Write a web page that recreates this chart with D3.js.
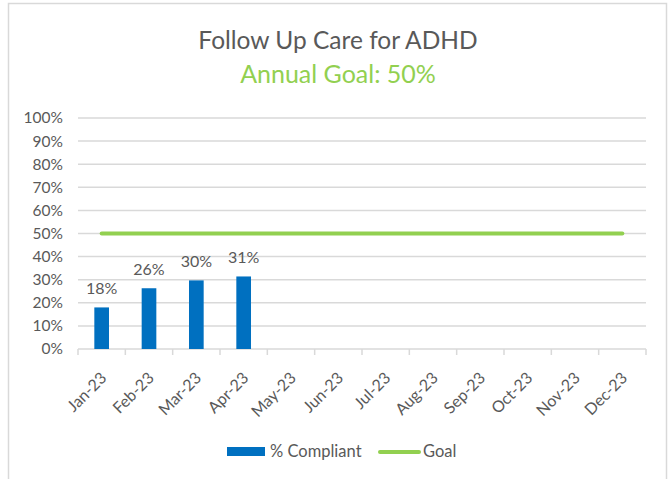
<!DOCTYPE html>
<html lang="en">
<head>
  <meta charset="UTF-8">
  <title>Follow Up Care for ADHD</title>
  <style>
    body { margin: 0; background: #fff; }
    text { font-family: Lato, "Open Sans", sans-serif; }
  </style>
</head>
<body>
  <script src="https://d3js.org/d3.v7.min.js"></script>
  <script>
    const months = ['Jan-23', 'Feb-23', 'Mar-23', 'Apr-23', 'May-23', 'Jun-23',
                    'Jul-23', 'Aug-23', 'Sep-23', 'Oct-23', 'Nov-23', 'Dec-23'];
    const compliant = [0.18, 0.263, 0.297, 0.314];
    const compliantLabels = ['18%', '26%', '30%', '31%'];
    const goal = [0.5, 0.5, 0.5, 0.5, 0.5, 0.5, 0.5, 0.5, 0.5, 0.5, 0.5, 0.5];
    const yTicks = [0, 0.1, 0.2, 0.3, 0.4, 0.5, 0.6, 0.7, 0.8, 0.9, 1];

    const width = 670;
    const height = 479;
    const textColor = '#595959';
    const gridColor = '#d9d9d9';
    const blue = '#0070c0';
    const green = '#92d050';

    const svg = d3.select('body')
                  .append('svg')
                  .attr('width', width)
                  .attr('height', height);

    // chart frame
    svg.append('rect')
       .attr('x', 8.5).attr('y', 3.5)
       .attr('width', 658).attr('height', 490)
       .attr('fill', '#fff')
       .attr('stroke', gridColor)
       .attr('stroke-width', 1.5);

    // titles
    svg.append('text')
       .attr('x', 338).attr('y', 49)
       .attr('text-anchor', 'middle')
       .attr('font-size', 24.5)
       .attr('fill', textColor)
       .text('Follow Up Care for ADHD');
    svg.append('text')
       .attr('x', 338).attr('y', 83)
       .attr('text-anchor', 'middle')
       .attr('font-size', 25)
       .attr('fill', green)
       .text('Annual Goal: 50%');

    const x = d3.scaleBand()
                .domain(months)
                .range([78, 646])
                .paddingInner(0.69)
                .paddingOuter(0.345);
    const xc = d3.scalePoint()
                 .domain(months)
                 .range([78, 646])
                 .padding(0.5);
    const y = d3.scaleLinear()
                .domain([0, 1])
                .range([349, 118]);

    // gridlines
    svg.append('g')
       .selectAll('line')
       .data(yTicks.slice(1))
       .enter()
       .append('line')
       .attr('x1', 78).attr('x2', 646)
       .attr('y1', d => y(d)).attr('y2', d => y(d))
       .attr('stroke', gridColor)
       .attr('stroke-width', 1.5);

    // y axis labels
    const yAxis = svg.append('g')
       .attr('transform', 'translate(63,0)')
       .call(d3.axisLeft(y).tickValues(yTicks).tickFormat(d3.format('.0%')).tickSize(0).tickPadding(0));
    yAxis.select('.domain').remove();
    yAxis.selectAll('text')
         .attr('font-size', 15.5)
         .attr('fill', textColor)
         .style('font-family', 'Lato, sans-serif');

    // x axis
    const xAxis = svg.append('g')
       .attr('transform', 'translate(0,349)')
       .call(d3.axisBottom(x).tickSize(0).tickPadding(0));
    xAxis.select('.domain')
         .attr('stroke', gridColor)
         .attr('stroke-width', 1.5)
         .attr('d', 'M78,0H646');
    xAxis.selectAll('.tick line').remove();
    xAxis.selectAll('text')
         .attr('font-size', 16)
         .attr('fill', textColor)
         .style('font-family', 'Lato, sans-serif')
         .attr('text-anchor', 'end')
         .attr('dy', 0)
         .attr('transform', 'translate(6,30) rotate(-45)');

    // category separators
    const bounds = months.map(m => xc(m) - xc.step() / 2).concat([646]);
    svg.append('g')
       .selectAll('line')
       .data(bounds)
       .enter()
       .append('line')
       .attr('x1', d => d).attr('x2', d => d)
       .attr('y1', 349).attr('y2', 355)
       .attr('stroke', gridColor)
       .attr('stroke-width', 1.5);

    // bars
    svg.append('g')
       .selectAll('rect')
       .data(compliant)
       .enter()
       .append('rect')
       .attr('x', (d, i) => x(months[i]))
       .attr('y', d => y(d))
       .attr('width', x.bandwidth())
       .attr('height', d => y(0) - y(d))
       .attr('fill', blue);

    svg.append('g')
       .selectAll('text')
       .data(compliant)
       .enter()
       .append('text')
       .attr('x', (d, i) => xc(months[i]))
       .attr('y', d => y(d) - 13)
       .attr('text-anchor', 'middle')
       .attr('font-size', 16)
       .attr('fill', textColor)
       .text((d, i) => compliantLabels[i]);

    // goal line
    const line = d3.line()
                   .x((d, i) => xc(months[i]))
                   .y(d => y(d));
    svg.append('path')
       .datum(goal)
       .attr('d', line)
       .attr('fill', 'none')
       .attr('stroke', green)
       .attr('stroke-width', 4)
       .attr('stroke-linecap', 'round');

    // legend
    const legend = svg.append('g');
    legend.append('rect')
          .attr('x', 227).attr('y', 447)
          .attr('width', 38).attr('height', 9)
          .attr('fill', blue);
    legend.append('text')
          .attr('x', 270).attr('y', 457)
          .attr('font-size', 16.5)
          .attr('fill', textColor)
          .text('% Compliant');
    legend.append('line')
          .attr('x1', 380).attr('x2', 419)
          .attr('y1', 452).attr('y2', 452)
          .attr('stroke', green)
          .attr('stroke-width', 4)
          .attr('stroke-linecap', 'round');
    legend.append('text')
          .attr('x', 423).attr('y', 457)
          .attr('font-size', 16.5)
          .attr('fill', textColor)
          .text('Goal');
  </script>
</body>
</html>
